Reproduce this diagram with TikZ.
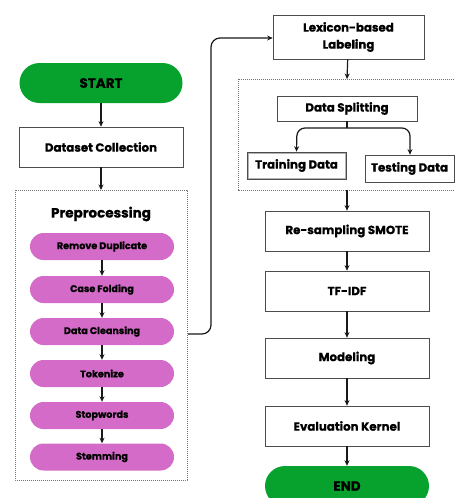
\documentclass[tikz,border=0pt]{standalone}
\usepackage{fontspec}
\setmainfont{Poppins}[BoldFeatures={FakeBold=0.8}]
\usetikzlibrary{arrows.meta}
\definecolor{startgreen}{HTML}{07A22E}
\definecolor{pillpurple}{HTML}{D56BC8}
\begin{document}
\begin{tikzpicture}[x=1pt,y=-1pt,
  every node/.style={font=\bfseries, inner sep=0pt, align=center},
  term/.style={fill=startgreen, rounded corners=20pt, minimum width=163pt, minimum height=40pt, font=\bfseries\fontsize{13.5}{15}\selectfont},
  box/.style={draw=black!70, line width=0.7pt, fill=white, font=\bfseries\fontsize{11.8}{14}\selectfont},
  pill/.style={fill=pillpurple, rounded corners=13.5pt, minimum width=144pt, minimum height=27pt, font=\bfseries\fontsize{9.6}{11}\selectfont},
  group/.style={draw=black!55, densely dashed, dash pattern=on 1.2pt off 0.8pt, line width=0.6pt},
  arr/.style={-{Stealth[length=5.5pt,width=5pt]}, line width=1.2pt, black!90},
]
\clip (0,0) rectangle (455,498);
\useasboundingbox (0,0) rectangle (455,498);
% groups
\draw[group] (15,190) rectangle (187,480);
\draw[group] (238,79) rectangle (470,190);
\coordinate (g2top) at (347,79);
\coordinate (g2bot) at (347,190);
\coordinate (g1top) at (101,190);
% left column
\node[term] (start) at (101,83) {START};
\node[box, minimum width=164pt, minimum height=40pt] (dc) at (101,147) {Dataset Collection};
\node[font=\bfseries\fontsize{13.5}{15}\selectfont] (pre) at (101,214) {Preprocessing};
\node[pill] (rd) at (102,246.5) {Remove Duplicate};
\node[pill] (cf) at (102,289.5) {Case Folding};
\node[pill] (cl) at (102,331.5) {Data Cleansing};
\node[pill] (tk) at (102,373.5) {Tokenize};
\node[pill] (sw) at (102,415.5) {Stopwords};
\node[pill] (st) at (102,457) {Stemming};
% right column
\node[box, minimum width=151pt, minimum height=44pt, font=\bfseries\fontsize{11.8}{17}\selectfont] (lex) at (348.5,37) {Lexicon-based\\Labeling};
\node[box, minimum width=140pt, minimum height=25pt] (ds) at (347,108.5) {Data Splitting};
\node[box, minimum width=99pt, minimum height=27pt] (tr) at (296.5,165.5) {Training Data};
\draw[black!30, line width=0.5pt] ([shift={(1.5,1.5)}]tr.north west) rectangle ([shift={(-1.5,-1.5)}]tr.south east);
\node[box, minimum width=89pt, minimum height=27pt] (te) at (409.5,168.5) {Testing Data};
\node[box, minimum width=164pt, minimum height=40pt] (sm) at (347,231) {Re-sampling SMOTE};
\node[box, minimum width=164pt, minimum height=40pt] (tf) at (347,291) {TF-IDF};
\node[box, minimum width=164pt, minimum height=40pt] (mo) at (347,358) {Modeling};
\node[box, minimum width=164pt, minimum height=40pt] (ev) at (347,426) {Evaluation Kernel};
\node[term, minimum width=164pt] (en) at (347,486) {END};
% arrows
\draw[arr] (start) -- (dc);
\draw[arr] (dc) -- (g1top);
\draw[arr] (rd) -- (cf);
\draw[arr] (cf) -- (cl);
\draw[arr] (cl) -- (tk);
\draw[arr] (tk) -- (sw);
\draw[arr] (sw) -- (st);
\coordinate (clout) at (188,334);
\draw[arr, rounded corners=9pt] (clout) -- (211,334) -- (211,38) -- (lex.west |- 211,38);
\draw[arr] (lex) -- (g2top);
\coordinate (split) at (347,128);
\draw[line width=1.2pt, black!90] (ds.south) -- (split);
\draw[arr, rounded corners=8pt] (split) -- (297,128) -- (tr.north);
\draw[arr, rounded corners=8pt] (split) -- (410,128) -- (te.north -| 410,0);
\draw[arr] (g2bot) -- (sm);
\draw[arr] (sm) -- (tf);
\draw[arr] (tf) -- (mo);
\draw[arr] (mo) -- (ev);
\draw[arr] (ev) -- (en);
\end{tikzpicture}
\end{document}
